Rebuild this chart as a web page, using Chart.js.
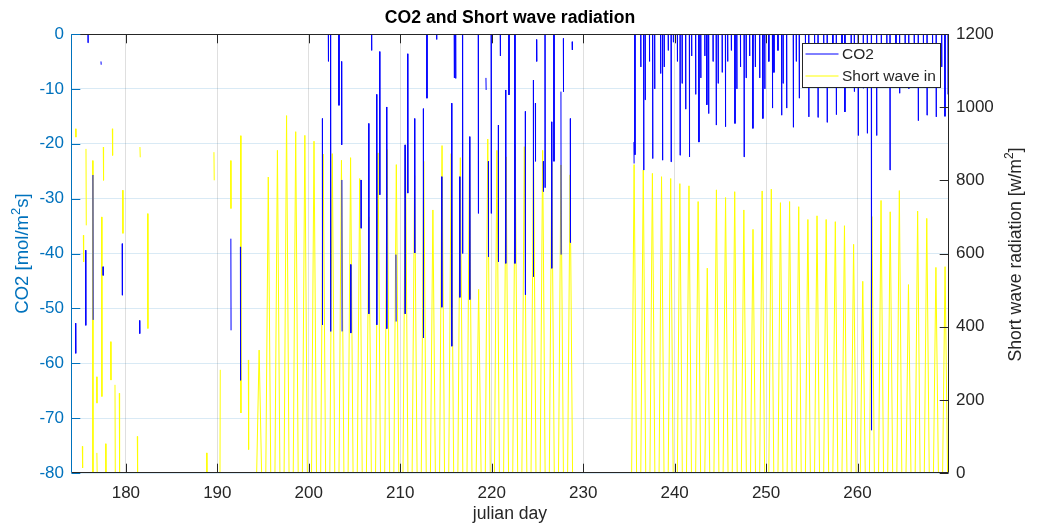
<!DOCTYPE html>
<html>
<head>
<meta charset="utf-8">
<title>CO2 and Short wave radiation</title>
<script src="https://cdn.jsdelivr.net/npm/chart.js@4.4.1/dist/chart.umd.min.js"></script>
<style>
  html, body { margin: 0; padding: 0; background: #fff; }
</style>
</head>
<body>
<canvas id="chart" width="1038" height="530"></canvas>
<script>
const FONT = '"Liberation Sans", Arial, Helvetica, sans-serif';

// axis ticks
const dayTicks = [180, 190, 200, 210, 220, 230, 240, 250, 260];
const co2Ticks = [-80, -70, -60, -50, -40, -30, -20, -10, 0];
const swTicks = [0, 200, 400, 600, 800, 1000, 1200];

// CO2 flux, short stretches standing alone between gaps: [day, from, to]
const co2Pieces = [
  [174.50, -52.7, -58.2], [175.60, -39.4, -53.1], [176.40, -25.7, -52.1],
  [177.28, -5.0, -5.6], [177.50, -42.4, -44.0], [179.60, -38.2, -47.6],
  [181.50, -52.2, -54.6], [191.48, -37.3, -54.0], [192.52, -38.8, -63.1],
  [201.48, -15.4, -53.0], [203.58, -5.0, -20.2], [203.62, -26.6, -54.2],
  [204.58, -42.0, -54.5], [205.71, -26.6, -35.4], [206.55, -16.3, -51.0],
  [207.42, -11.0, -53.0], [207.75, -3.2, -29.3], [208.51, -13.3, -53.7],
  [209.53, -40.2, -52.4], [210.52, -20.2, -51.0], [210.81, -3.6, -29.0],
  [211.57, -15.4, -39.9], [212.52, -13.6, -55.4], [214.53, -26.0, -49.8],
  [215.62, -12.6, -56.9], [216.50, -26.0, -48.0], [217.59, -18.7, -48.4],
  [219.37, -8.0, -10.2], [219.63, -23.2, -40.6], [220.72, -16.6, -41.5],
  [221.52, -10.2, -41.8], [223.67, -14.1, -47.5], [224.55, -8.4, -44.2],
  [224.77, -12.6, -23.2], [224.90, -1.0, -5.0], [225.64, -23.2, -28.7],
  [226.55, -16.0, -42.7], [227.57, -10.5, -40.2], [227.83, -0.8, -10.5],
  [228.59, -15.4, -38.0], [228.80, -1.4, -2.9], [235.55, -19.7, -23.6]
];

// CO2 flux dipping down from night-time efflux (off the top of the axis): [day, minimum]
const co2Dips = [
  [175.86, -1.6], [202.14, -5.0], [202.39, -54.2], [203.30, -13.0], [206.87, -3.0],
  [212.92, -11.7], [213.98, -1.0], [215.91, -8.0], [216.06, -8.1], [216.82, -40.0],
  [218.54, -32.7], [219.95, -32.7], [220.94, -4.0], [221.89, -11.1], [222.54, -41.8],
  [225.83, -28.0], [226.81, -23.2],
  [235.66, -22.0], [236.30, -6.0], [236.62, -24.8], [236.78, -12.0], [237.25, -5.0],
  [237.60, -22.7], [237.82, -10.0], [238.47, -7.2], [238.68, -23.0], [238.86, -6.0],
  [239.30, -3.0], [239.62, -23.3], [239.86, -1.5], [240.30, -5.0], [240.60, -22.1],
  [240.82, -9.0], [241.21, -13.7], [241.62, -22.4], [241.86, -4.0], [242.30, -11.0],
  [242.66, -19.7], [242.86, -8.0], [243.30, -4.0], [243.52, -12.9], [243.72, -14.5],
  [244.20, -5.0], [244.55, -16.6], [244.76, -9.0], [245.20, -7.0], [245.56, -16.9],
  [245.80, -5.0], [246.20, -3.0], [246.60, -16.3], [246.80, -10.0], [247.20, -6.0],
  [247.60, -22.4], [247.82, -8.0], [248.20, -4.0], [248.56, -17.2], [248.82, -6.0],
  [249.30, -8.0], [249.65, -15.4], [249.86, -10.0], [250.30, -5.0], [250.70, -13.5],
  [250.86, -7.0], [251.30, -3.0], [251.70, -14.8], [251.86, -9.0], [252.25, -13.5],
  [252.98, -17.0], [253.30, -5.0], [253.63, -11.7], [254.30, -6.0], [254.67, -15.1],
  [255.30, -4.0], [255.68, -15.2], [256.30, -7.0], [256.68, -16.1], [257.30, -5.0],
  [257.68, -14.7], [258.30, -6.0], [258.62, -14.2], [259.30, -4.0], [259.65, -10.5],
  [260.08, -18.5], [260.63, -9.9], [261.07, -18.1], [261.52, -72.2], [262.09, -18.5],
  [262.60, -8.0], [263.20, -6.0], [263.55, -24.8], [264.20, -5.0], [264.60, -10.8],
  [265.20, -4.0], [265.60, -10.0], [266.20, -6.0], [266.64, -15.8], [267.20, -5.0],
  [267.60, -14.8], [268.20, -4.0], [268.60, -15.1], [269.20, -6.0], [269.56, -15.0],
  [269.90, -11.0]
];
const co2Night = 5;

// short wave in, broken stretches in the gappy early record: [day, from, to]
const swPieces = [
  [174.51, 941, 918], [175.24, 73, 14], [175.35, 650, 577], [175.64, 886, 677],
  [176.37, 854, 0], [176.81, 263, 191], [176.83, 55, 0], [177.35, 700, 209],
  [177.53, 891, 800], [177.79, 80, 0], [178.34, 359, 254], [178.52, 941, 868],
  [178.81, 241, 0], [179.28, 218, 0], [179.65, 773, 655], [181.25, 100, 0],
  [181.54, 891, 863], [182.38, 709, 395], [188.83, 55, 0], [189.63, 877, 800],
  [190.29, 0, 282], [191.46, 854, 723], [192.55, 922, 164], [193.39, 309, 64]
];

// daily midday peaks of short wave in, one per day
const swFirstDayA = 194;
const swPeaksA = [336, 809, 882, 977, 933, 923, 907, 872, 873, 855, 862, 805, 700, 875, 884,
  843, 897, 813, 852, 719, 895, 873, 862, 864, 502, 913, 882, 864, 895, 892, 892, 882, 846,
  842, 815];
const swFirstDayB = 235;
const swPeaksB = [843, 828, 819, 810, 805, 791, 785, 742, 560, 774, 753, 769, 719, 666, 771,
  776, 739, 742, 728, 693, 703, 693, 687, 676, 625, 524, 701, 745, 714, 772, 515, 716, 696,
  562, 564];

const NOON = 0.57;      // time of day of the peak
const HALF_DAY = 0.27;  // half length of daylight, days

// join groups of points into one series, with a break between groups
function joinGroups(groups) {
  groups.sort((a, b) => a[0].x - b[0].x);
  const out = [];
  groups.forEach(g => {
    out.push(...g);
    out.push({ x: g[g.length - 1].x, y: null });
  });
  return out;
}

const co2Groups = [];
co2Pieces.forEach(([d, a, b]) => co2Groups.push([{ x: d, y: a }, { x: d + 0.02, y: b }]));
co2Dips.forEach(([d, v]) => co2Groups.push([
  { x: d - 0.02, y: co2Night }, { x: d, y: v }, { x: d + 0.02, y: co2Night }
]));
const co2Data = joinGroups(co2Groups);

const swGroups = [];
swPieces.forEach(([d, a, b]) => swGroups.push([{ x: d, y: a }, { x: d + 0.03, y: b }]));
[[swFirstDayA, swPeaksA], [swFirstDayB, swPeaksB]].forEach(([first, peaks]) => {
  peaks.forEach((p, i) => {
    const noon = first + i + NOON;
    swGroups.push([{ x: noon - HALF_DAY, y: 0 }, { x: noon, y: p }, { x: noon + HALF_DAY, y: 0 }]);
  });
});
const swData = joinGroups(swGroups);

const AXIS_BLUE = '#0072BD';
const AXIS_DARK = '#262626';
const TICK_LEN = 8.8;

function supText(ctx, parts, cx, cy, size, color) {
  ctx.save();
  ctx.translate(cx, cy);
  ctx.rotate(-Math.PI / 2);
  ctx.fillStyle = color;
  ctx.textBaseline = 'middle';
  ctx.textAlign = 'left';
  const big = `${size}px ${FONT}`;
  const small = `${Math.round(size * 0.7)}px ${FONT}`;
  ctx.font = big;
  const w1 = ctx.measureText(parts[0]).width;
  const w3 = ctx.measureText(parts[2]).width;
  ctx.font = small;
  const w2 = ctx.measureText(parts[1]).width;
  let x = -(w1 + w2 + w3) / 2;
  ctx.font = big;
  ctx.fillText(parts[0], x, 0);
  x += w1;
  ctx.font = small;
  ctx.fillText(parts[1], x, -size * 0.38);
  x += w2;
  ctx.font = big;
  ctx.fillText(parts[2], x, 0);
  ctx.restore();
}

// box, inward ticks, titles and the legend, drawn the MATLAB way
const framePlugin = {
  id: 'frame',
  afterDatasetsDraw(chart) {
    const { ctx, chartArea: a, scales } = chart;
    const L = Math.round(a.left) + 0.5, R = Math.round(a.right) - 0.5;
    const T = Math.round(a.top) + 0.5, B = Math.round(a.bottom) - 0.5;
    ctx.save();
    ctx.lineWidth = 1;

    ctx.strokeStyle = AXIS_DARK;
    ctx.beginPath();
    ctx.moveTo(L, T); ctx.lineTo(R, T);
    ctx.moveTo(L, B); ctx.lineTo(R, B);
    ctx.moveTo(R, T); ctx.lineTo(R, B);
    dayTicks.forEach(v => {
      const px = Math.round(scales.x.getPixelForValue(v)) + 0.5;
      ctx.moveTo(px, B); ctx.lineTo(px, B - TICK_LEN);
      ctx.moveTo(px, T); ctx.lineTo(px, T + TICK_LEN);
    });
    swTicks.forEach(v => {
      const py = Math.round(scales.ySW.getPixelForValue(v)) + 0.5;
      ctx.moveTo(R, py); ctx.lineTo(R - TICK_LEN, py);
    });
    ctx.stroke();

    ctx.strokeStyle = AXIS_BLUE;
    ctx.beginPath();
    ctx.moveTo(L, T); ctx.lineTo(L, B);
    co2Ticks.forEach(v => {
      const py = Math.round(scales.yCO2.getPixelForValue(v)) + 0.5;
      ctx.moveTo(L, py); ctx.lineTo(L + TICK_LEN, py);
    });
    ctx.stroke();

    // legend
    const bx = Math.round(a.right - 147) + 0.5, by = Math.round(a.top + 9) + 0.5;
    const bw = 138, bh = 44;
    ctx.fillStyle = '#ffffff';
    ctx.fillRect(bx, by, bw, bh);
    ctx.strokeStyle = AXIS_DARK;
    ctx.strokeRect(bx, by, bw, bh);
    ctx.font = `15.5px ${FONT}`;
    ctx.textBaseline = 'middle';
    ctx.textAlign = 'left';
    chart.data.datasets.forEach((ds, i) => {
      const ly = by + 10.5 + i * 22;
      ctx.strokeStyle = ds.borderColor;
      ctx.beginPath();
      ctx.moveTo(bx + 3, ly); ctx.lineTo(bx + 36, ly);
      ctx.stroke();
      ctx.fillStyle = AXIS_DARK;
      ctx.fillText(ds.label, bx + 39.5, ly + 0.5);
    });
    ctx.restore();
  },
  afterDraw(chart) {
    const { ctx, chartArea: a } = chart;
    const cy = (a.top + a.bottom) / 2;
    ctx.save();
    ctx.fillStyle = '#000000';
    ctx.font = `bold 17.6px ${FONT}`;
    ctx.textAlign = 'center';
    ctx.textBaseline = 'middle';
    ctx.fillText('CO2 and Short wave radiation', (a.left + a.right) / 2, 18);
    ctx.restore();
    supText(ctx, ['CO2 [mol/m', '2', 's]'], 23, cy, 18.5, AXIS_BLUE);
    supText(ctx, ['Short wave radiation [w/m', '2', ']'], 1016, cy + 1, 17.6, AXIS_DARK);
  }
};

const ctx = document.getElementById('chart').getContext('2d');

const chart = new Chart(ctx, {
  type: 'line',
  data: {
    datasets: [{
      label: 'CO2',
      data: co2Data,
      yAxisID: 'yCO2',
      borderColor: '#0000ff',
      borderWidth: 1,
      pointRadius: 0,
      order: 0
    }, {
      label: 'Short wave in',
      data: swData,
      yAxisID: 'ySW',
      borderColor: '#ffff00',
      borderWidth: 1,
      pointRadius: 0,
      order: 1
    }]
  },
  options: {
    responsive: false,
    animation: false,
    devicePixelRatio: 1,
    events: [],
    layout: { padding: { top: 34 } },
    plugins: {
      legend: { display: false },
      tooltip: { enabled: false },
      title: { display: false }
    },
    scales: {
      x: {
        type: 'linear',
        min: 174,
        max: 270,
        afterBuildTicks: s => { s.ticks = dayTicks.map(v => ({ value: v })); },
        afterFit: s => { s.height = 57; },
        border: { display: false },
        grid: { color: 'rgba(38,38,38,0.15)', drawTicks: false },
        ticks: {
          color: AXIS_DARK,
          font: { family: FONT, size: 17 },
          padding: 10,
          maxRotation: 0,
          autoSkip: false
        },
        title: {
          display: true,
          text: 'julian day',
          color: AXIS_DARK,
          font: { family: FONT, size: 17.6 },
          padding: { top: 0, bottom: 5 }
        }
      },
      yCO2: {
        type: 'linear',
        position: 'left',
        min: -80,
        max: 0,
        afterBuildTicks: s => { s.ticks = co2Ticks.map(v => ({ value: v })); },
        afterFit: s => { s.width = 71; },
        border: { display: false },
        grid: { color: 'rgba(0,114,189,0.15)', drawTicks: false },
        ticks: {
          color: AXIS_BLUE,
          font: { family: FONT, size: 17 },
          padding: 7,
          callback: v => String(v)
        }
      },
      ySW: {
        type: 'linear',
        position: 'right',
        min: 0,
        max: 1200,
        afterBuildTicks: s => { s.ticks = swTicks.map(v => ({ value: v })); },
        afterFit: s => { s.width = 89; },
        border: { display: false },
        grid: { drawOnChartArea: false, drawTicks: false },
        ticks: {
          color: AXIS_DARK,
          font: { family: FONT, size: 17 },
          padding: 7,
          callback: v => String(v)
        }
      }
    }
  },
  plugins: [framePlugin]
});
</script>
</body>
</html>
